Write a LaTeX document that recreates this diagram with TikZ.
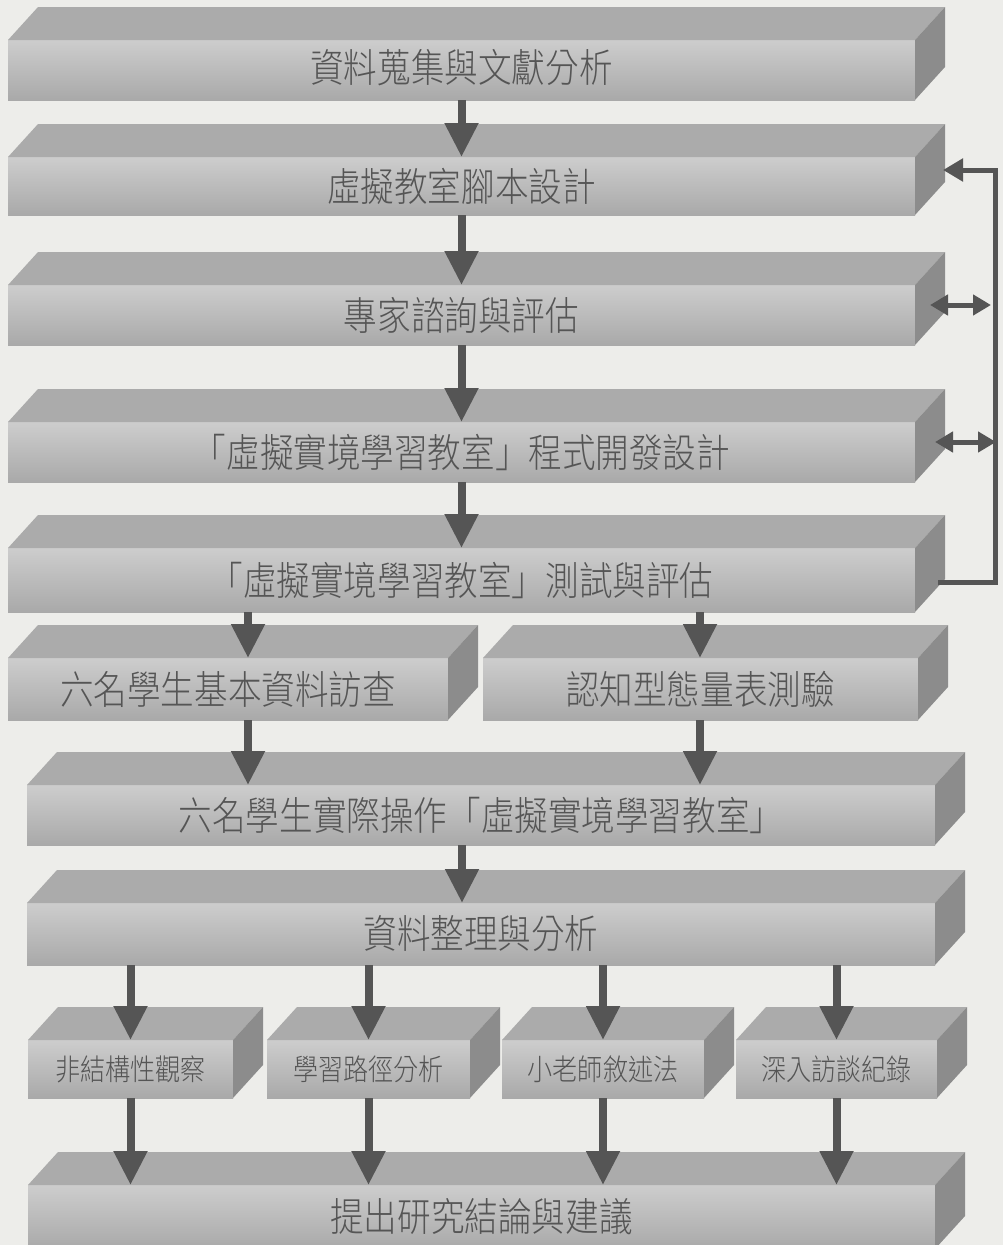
\documentclass[tikz,border=0pt]{standalone}
\usepackage{fontspec}
\IfFontExistsTF{Noto Sans CJK TC Light}
  {\newfontfamily\cjk[FakeStretch=0.85]{Noto Sans CJK TC Light}}
  {\newfontfamily\cjk[FakeStretch=0.85]{Noto Sans CJK TC}}
\usetikzlibrary{arrows.meta,calc}
\definecolor{bg}{HTML}{EDEDEA}
\definecolor{fTop}{HTML}{CDCDCD}
\definecolor{fMid}{HTML}{C3C3C3}
\definecolor{fBot}{HTML}{A9A9A9}
\definecolor{topc}{HTML}{ABABAB}
\definecolor{sidec}{HTML}{8C8C8C}
\definecolor{txt}{HTML}{555555}
\definecolor{arrc}{HTML}{555555}
\tikzset{
  front/.style={anchor=north west, inner sep=0pt, outer sep=0pt,
    top color=fTop, middle color=fMid, bottom color=fBot, text=txt,
    font=\cjk\fontsize{39.5}{39.5}\selectfont},
  smallfont/.style={font=\cjk\fontsize{29.5}{29.5}\selectfont},
  topface/.style={fill=topc},
  sideface/.style={fill=sidec},
  arr/.style={draw=arrc, line width=8pt, -{Triangle[width=32pt,length=34pt]}},
  fb/.style={draw=arrc, line width=5pt},
  fbtip/.style={-{Triangle[width=22pt,length=20pt]}},
  fbboth/.style={{Triangle[width=20pt,length=18pt]}-{Triangle[width=20pt,length=18pt]}}
}
\newcommand\slab[7][]{%
  \node[front,#1,minimum width=#5pt,minimum height=#6pt] (#2) at (#3,#4) {#7};
  \fill[topface] (#2.north west) -- ++(30,-33) -- ([shift={(30,-33)}]#2.north east) -- (#2.north east) -- cycle;
  \fill[sideface] (#2.north east) -- ([shift={(30,-33)}]#2.north east) -- ([shift={(30,-33)}]#2.south east) -- (#2.south east) -- cycle;
}
\begin{document}
\begin{tikzpicture}[x=1pt,y=-1pt]
\useasboundingbox (0,0) rectangle (1003,1245);
\clip (0,0) rectangle (1003,1245);
\fill[bg] (0,0) rectangle (1003,1245);

\slab{b1}{8}{40}{907}{60}{\raisebox{8pt}{資料蒐集與文獻分析}}
\slab{b2}{8}{157}{907}{58}{虛擬教室腳本設計}
\slab{b3}{8}{285}{907}{60}{專家諮詢與評估}
\slab{b4}{8}{422}{907}{60}{「虛擬實境學習教室」程式開發設計}
\slab{b5}{8}{548}{907}{64}{「虛擬實境學習教室」測試與評估}
\slab{lb}{8}{658}{440}{62}{六名學生基本資料訪查}
\slab{rb}{483}{658}{435}{62}{認知型態量表測驗}
\slab{b7}{27}{785}{908}{60}{六名學生實際操作「虛擬實境學習教室」}
\slab{b8}{27}{903}{908}{62}{資料整理與分析}
\slab[smallfont]{s1}{28}{1040}{205}{58}{非結構性觀察}
\slab[smallfont]{s2}{267}{1040}{203}{58}{學習路徑分析}
\slab[smallfont]{s3}{502}{1040}{202}{58}{小老師敘述法}
\slab[smallfont]{s4}{736}{1040}{201}{58}{深入訪談紀錄}
\slab{b9}{28}{1185}{907}{64}{提出研究結論與建議}

% main flow arrows
\coordinate (lx) at (248,0);
\coordinate (rx) at (700,0);
\coordinate (mx) at (462,0);
\draw[arr] (b1.south) -- (b2.north);
\draw[arr] (b2.south) -- (b3.north);
\draw[arr] (b3.south) -- (b4.north);
\draw[arr] (b4.south) -- (b5.north);
\draw[arr] (b5.south -| lx) -- (lb.north -| lx);
\draw[arr] (b5.south -| rx) -- (rb.north -| rx);
\draw[arr] (lb.south -| lx) -- (b7.north -| lx);
\draw[arr] (rb.south -| rx) -- (b7.north -| rx);
\draw[arr] (b7.south -| mx) -- (b8.north -| mx);
\foreach \s in {s1,s2,s3,s4}{
  \draw[arr] (b8.south -| \s.north) -- (\s.north);
  \draw[arr] (\s.south) -- (b9.north -| \s.south);
}

% feedback loop
\coordinate (fbA) at (995,170);
\coordinate (fbB) at (995,582);
\coordinate (d3) at (991,305);
\coordinate (d4) at (996,442);
\draw[fb,fbtip] ([xshift=23pt]b5.east |- fbB) -- (fbB) -- (fbA) -- ([xshift=28pt]b2.east |- fbA);
\draw[fb,fbboth] ([xshift=15pt]b3.east |- d3) -- (d3);
\draw[fb,fbboth] ([xshift=20pt]b4.east |- d4) -- (d4);
\end{tikzpicture}
\end{document}
